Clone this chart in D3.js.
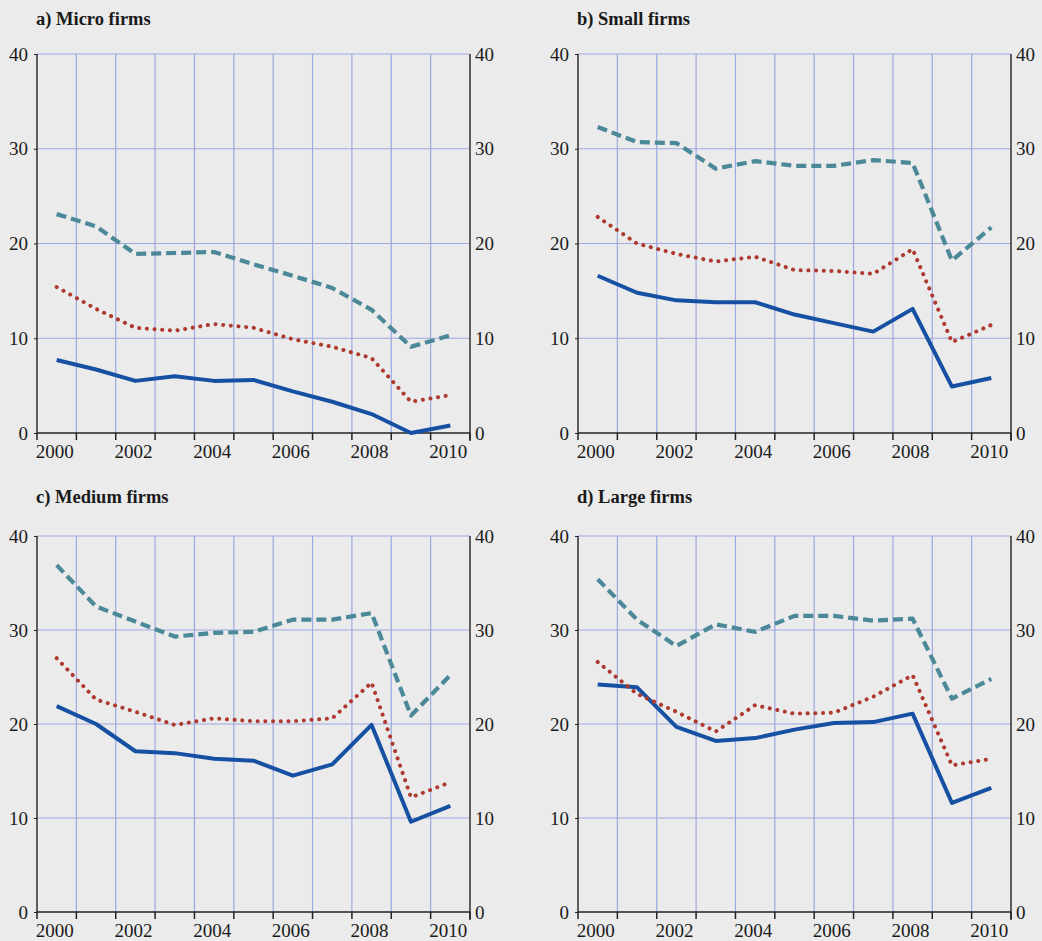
<!DOCTYPE html>
<html>
<head>
<meta charset="utf-8">
<script src="https://cdn.jsdelivr.net/npm/d3@7"></script>
</head>
<body style="margin:0;padding:0;background:#ebebeb">
<svg id="s" width="1042" height="941" font-family="Times New Roman"></svg>
<script>
const years = [2000, 2001, 2002, 2003, 2004, 2005, 2006, 2007, 2008, 2009, 2010];
const yearLabels = ["2000", "", "2002", "", "2004", "", "2006", "", "2008", "", "2010"];
const yTicks = [0, 10, 20, 30, 40];
const panelTitles = ["a) Micro firms", "b) Small firms", "c) Medium firms", "d) Large firms"];

// Series per panel: solid (blue), dashed (teal), dotted (red)
const microSolid  = [7.7, 6.7, 5.5, 6.0, 5.5, 5.6, 4.4, 3.3, 2.0, 0.0, 0.8];
const microDashed = [23.1, 21.8, 18.9, 19.0, 19.1, 17.8, 16.6, 15.3, 13.0, 9.1, 10.3];
const microDotted = [15.4, 13.1, 11.1, 10.8, 11.5, 11.1, 9.9, 9.1, 7.9, 3.3, 4.0];

const smallSolid  = [16.6, 14.8, 14.0, 13.8, 13.8, 12.5, 11.6, 10.7, 13.1, 4.9, 5.8];
const smallDashed = [32.3, 30.7, 30.6, 27.9, 28.7, 28.2, 28.2, 28.8, 28.5, 18.2, 21.7];
const smallDotted = [22.8, 20.0, 18.9, 18.1, 18.6, 17.2, 17.1, 16.8, 19.4, 9.6, 11.4];

const mediumSolid  = [21.9, 20.0, 17.1, 16.9, 16.3, 16.1, 14.5, 15.7, 19.9, 9.6, 11.3];
const mediumDashed = [36.9, 32.5, 30.9, 29.3, 29.7, 29.8, 31.1, 31.1, 31.8, 20.9, 25.2];
const mediumDotted = [27.0, 22.6, 21.3, 19.9, 20.6, 20.3, 20.3, 20.6, 24.4, 12.2, 13.8];

const largeSolid  = [24.2, 23.9, 19.7, 18.2, 18.5, 19.4, 20.1, 20.2, 21.1, 11.6, 13.2];
const largeDashed = [35.4, 31.1, 28.3, 30.6, 29.8, 31.5, 31.5, 31.0, 31.2, 22.7, 24.8];
const largeDotted = [26.6, 23.2, 21.3, 19.2, 22.0, 21.1, 21.2, 22.9, 25.2, 15.6, 16.3];

const panelData = [
  [microSolid, microDashed, microDotted],
  [smallSolid, smallDashed, smallDotted],
  [mediumSolid, mediumDashed, mediumDotted],
  [largeSolid, largeDashed, largeDotted]
];

const panelBoxes = [
  { x0: 37, x1: 470, yTop: 54, yBot: 433, titleY: 25 },
  { x0: 578, x1: 1011, yTop: 54, yBot: 433, titleY: 25 },
  { x0: 37, x1: 470, yTop: 536, yBot: 912, titleY: 503 },
  { x0: 578, x1: 1011, yTop: 536, yBot: 912, titleY: 503 }
];

const styles = [
  { color: "#1650a2", width: 4, dash: null, cap: "butt" },
  { color: "#4b8998", width: 4.2, dash: "10,5", cap: "butt" },
  { color: "#ae3a2f", width: 4, dash: "0.1,7.6", cap: "round" }
];

const gridColor = "#9ca8e2";
const svg = d3.select("#s");

function setFont(t, size, weight) {
  t.attr("font-family", "Liberation Serif")
   .style("font-family", '"Liberation Serif"')
   .style("font-size", size + "px")
   .style("font-weight", weight || "normal")
   .attr("fill", "#1a1a1a");
}

panelBoxes.forEach((b, i) => {
  const g = svg.append("g");
  const x = d3.scaleBand().domain(years).range([b.x0, b.x1]).padding(0);
  const y = d3.scaleLinear().domain([0, 40]).range([b.yBot, b.yTop]);

  // horizontal grid
  g.selectAll(".hg").data(yTicks.filter(t => t > 0)).enter().append("line")
    .attr("x1", b.x0).attr("x2", b.x1)
    .attr("y1", d => y(d)).attr("y2", d => y(d))
    .attr("stroke", gridColor).attr("stroke-width", 1.2);

  // vertical grid at band boundaries
  const bounds = years.slice(1).map(yr => x(yr));
  g.selectAll(".vg").data(bounds).enter().append("line")
    .attr("x1", d => d).attr("x2", d => d)
    .attr("y1", b.yTop).attr("y2", b.yBot)
    .attr("stroke", gridColor).attr("stroke-width", 1.2);

  // left axis
  const left = g.append("g").attr("transform", `translate(${b.x0},0)`)
    .call(d3.axisLeft(y).tickValues(yTicks).tickSize(3).tickPadding(6));
  left.attr("font-family", null).attr("font-size", null);
  left.select(".domain").attr("stroke", "#222").attr("stroke-width", 1.4)
    .attr("d", `M0,${b.yTop}V${b.yBot}`);
  left.selectAll(".tick line").attr("stroke", "#222");
  left.selectAll(".tick text").each(function() { setFont(d3.select(this), 19); });

  // right axis
  const right = g.append("g").attr("transform", `translate(${b.x1},0)`)
    .call(d3.axisRight(y).tickValues(yTicks).tickSize(0).tickPadding(5));
  right.attr("font-family", null).attr("font-size", null);
  right.select(".domain").attr("stroke", "#222").attr("stroke-width", 1.4)
    .attr("d", `M0,${b.yTop}V${b.yBot + 8}`);
  right.selectAll(".tick text").each(function() { setFont(d3.select(this), 19); });

  // bottom axis
  const xb = g.append("g").attr("transform", `translate(0,${b.yBot})`)
    .call(d3.axisBottom(x).tickFormat((d, k) => yearLabels[k]).tickSize(0).tickPadding(12));
  xb.attr("font-family", null).attr("font-size", null);
  xb.select(".domain").attr("stroke", "#222").attr("stroke-width", 1.6)
    .attr("d", `M${b.x0},0H${b.x1}`);
  xb.selectAll(".tick text").each(function() { setFont(d3.select(this), 19); }).attr("dx", -2);
  const tickPos = years.map(yr => x(yr)).concat([b.x1]);
  xb.selectAll(".bt").data(tickPos).enter().append("line")
    .attr("x1", d => d).attr("x2", d => d).attr("y1", 0).attr("y2", 7)
    .attr("stroke", "#222").attr("stroke-width", 1.5);

  // series
  const line = d3.line()
    .x((d, k) => x(years[k]) + x.bandwidth() / 2)
    .y(d => y(d));
  panelData[i].forEach((series, s) => {
    const st = styles[s];
    g.append("path").datum(series)
      .attr("d", line)
      .attr("fill", "none")
      .attr("stroke", st.color)
      .attr("stroke-width", st.width)
      .attr("stroke-linecap", st.cap)
      .attr("stroke-linejoin", "round")
      .attr("stroke-dasharray", st.dash);
  });

  // title
  const title = g.append("text").attr("x", b.x0 - 1).attr("y", b.titleY).text(panelTitles[i]);
  setFont(title, 18.5, "bold");
});
</script>
</body>
</html>
